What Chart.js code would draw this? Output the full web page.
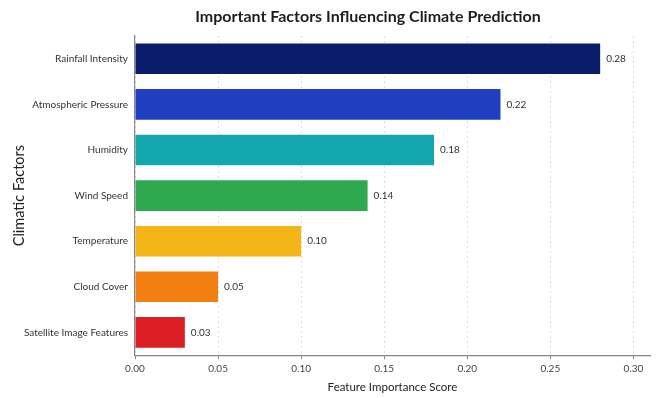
<!DOCTYPE html>
<html>
<head>
<meta charset="utf-8">
<script src="https://cdn.jsdelivr.net/npm/chart.js@4/dist/chart.umd.min.js"></script>
<style>
  html, body { margin: 0; padding: 0; background: #ffffff; }
  #wrap { width: 659px; height: 398px; }
</style>
</head>
<body>
<div id="wrap"><canvas id="chart" width="659" height="398"></canvas></div>
<script>
// Factors and their importance scores
const factors = [
  'Rainfall Intensity',
  'Atmospheric Pressure',
  'Humidity',
  'Wind Speed',
  'Temperature',
  'Cloud Cover',
  'Satellite Image Features'
];
const importance = [0.28, 0.22, 0.18, 0.14, 0.10, 0.05, 0.03];
const barColors = ['#0b1d6a', '#1f3fc0', '#14a6ae', '#2ea94f', '#f4b519', '#f27f12', '#dc1f25'];
const scoreTicks = [0, 0.05, 0.10, 0.15, 0.20, 0.25, 0.30];

const chartTitle = 'Important Factors Influencing Climate Prediction';
const FONT = 'Lato, "Open Sans", sans-serif';

// Title drawn at a fixed position above the plot
const titlePlugin = {
  id: 'topTitle',
  afterDraw(chart) {
    const ctx = chart.ctx;
    ctx.save();
    ctx.font = 'bold 16px ' + FONT;
    ctx.fillStyle = '#1e1e1e';
    ctx.textAlign = 'center';
    ctx.textBaseline = 'middle';
    ctx.fillText(chartTitle, 368, 17);
    ctx.restore();
  }
};

// Value labels at the end of each bar
const valueLabels = {
  id: 'valueLabels',
  afterDatasetsDraw(chart) {
    const ctx = chart.ctx;
    const meta = chart.getDatasetMeta(0);
    const data = chart.data.datasets[0].data;
    ctx.save();
    ctx.font = '10px ' + FONT;
    ctx.fillStyle = '#333333';
    ctx.textAlign = 'left';
    ctx.textBaseline = 'middle';
    meta.data.forEach((bar, i) => {
      ctx.fillText(data[i].toFixed(2), bar.x + 6, bar.y);
    });
    ctx.restore();
  }
};

new Chart(document.getElementById('chart'), {
  type: 'bar',
  data: {
    labels: factors,
    datasets: [{
      data: importance,
      backgroundColor: barColors,
      borderWidth: 0,
      categoryPercentage: 1.0,
      barPercentage: 0.67
    }]
  },
  options: {
    indexAxis: 'y',
    responsive: false,
    animation: false,
    devicePixelRatio: 1,
    layout: { padding: { top: 36, right: 9, bottom: 4, left: 11 } },
    plugins: {
      legend: { display: false },
      title: { display: false },
      tooltip: { enabled: false }
    },
    scales: {
      x: {
        type: 'linear',
        min: 0,
        max: 0.31,
        afterBuildTicks(scale) {
          scale.ticks = scoreTicks.map(v => ({ value: v }));
        },
        ticks: {
          color: '#444444',
          font: { family: FONT, size: 10 },
          padding: 4,
          callback: v => Number(v).toFixed(2)
        },
        grid: {
          display: true,
          color: 'rgba(0,0,0,0.13)',
          drawTicks: true,
          tickLength: 4,
          tickColor: '#888888',
          tickBorderDash: []
        },
        border: { display: true, color: '#888888', width: 1.2, dash: [2, 3] },
        title: {
          display: true,
          text: 'Feature Importance Score',
          color: '#222222',
          font: { family: FONT, size: 11.5 },
          padding: { top: 1, bottom: 0 }
        }
      },
      y: {
        type: 'category',
        afterFit(scale) { scale.width = 124; },
        ticks: {
          color: '#333333',
          font: { family: FONT, size: 10 },
          padding: 7
        },
        grid: { display: false, drawTicks: false },
        border: { display: true, color: '#888888', width: 1.2 },
        title: {
          display: true,
          text: 'Climatic Factors',
          color: '#222222',
          font: { family: FONT, size: 14.5 },
          padding: { top: 0, bottom: 0 }
        }
      }
    }
  },
  plugins: [titlePlugin, valueLabels]
});
</script>
</body>
</html>
